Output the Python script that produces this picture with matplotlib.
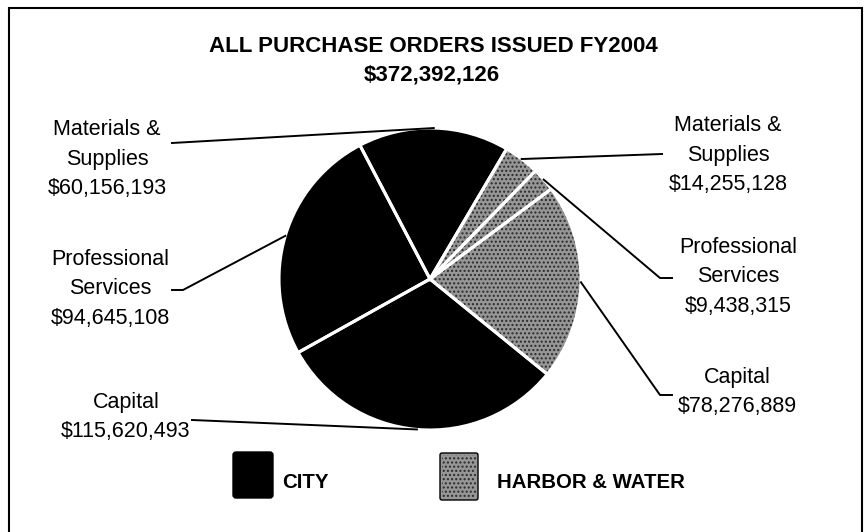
import matplotlib
matplotlib.use("Agg")
import matplotlib.pyplot as plt
from matplotlib.patches import Wedge, FancyBboxPatch, Rectangle
import numpy as np

title = "ALL PURCHASE ORDERS ISSUED FY2004"
groups = ["CITY", "HARBOR & WATER"]
categories = ["Materials &\nSupplies", "Professional\nServices", "Capital"]
city_values = [60156193, 94645108, 115620493]
harbor_values = [14255128, 9438315, 78276889]

# label placement (image pixels, y measured from top)
city_label_xy = [(107, 159), (110, 289), (126, 417)]
harbor_label_xy = [(728, 155), (738, 277), (737, 392)]
city_leader = [[(172, 143)], [(172, 290), (183, 290)], [(192, 420)]]
harbor_leader = [[(662, 154)], [(672, 278), (660, 278)], [(672, 395), (660, 395)]]

W, H = 864, 532
CITY_COLOR = "#000000"
HARBOR_COLOR = "#969696"


def up(p):
    return (p[0], H - p[1])


def main():
    plt.rcParams["font.family"] = ["Liberation Sans", "DejaVu Sans"]
    plt.rcParams["hatch.linewidth"] = 1.0
    fig = plt.figure(figsize=(W / 100, H / 100), dpi=100)
    ax = fig.add_axes([0, 0, 1, 1])

    # clockwise from the top-right: harbor slices, then city slices reversed
    values = harbor_values + city_values[::-1]
    colors = [HARBOR_COLOR] * 3 + [CITY_COLOR] * 3
    center = (430, H - 279)
    radius = 151
    wedges, _ = ax.pie(values, colors=colors, startangle=59.5, counterclock=False,
                       center=center, radius=radius,
                       wedgeprops=dict(linewidth=0))

    # stipple texture on harbor slices, then white separators on top
    for w in wedges[:3]:
        ax.add_patch(Wedge(w.center, w.r, w.theta1, w.theta2, facecolor="none",
                           edgecolor="#2a2a2a", linewidth=0, hatch="....", zorder=2))
    for w in wedges:
        ax.add_patch(Wedge(w.center, w.r, w.theta1, w.theta2, facecolor="none",
                           edgecolor="white", linewidth=2.2, zorder=3))

    harbor_w = wedges[:3]
    city_w = wedges[3:][::-1]

    def rim(w):
        a = np.deg2rad((w.theta1 + w.theta2) / 2)
        return (w.center[0] + w.r * np.cos(a), w.center[1] + w.r * np.sin(a))

    for cat_list, vals, wl, lxy, lead in [
        (categories, city_values, city_w, city_label_xy, city_leader),
        (categories, harbor_values, harbor_w, harbor_label_xy, harbor_leader),
    ]:
        for cat, v, w, xy, pts in zip(cat_list, vals, wl, lxy, lead):
            ax.text(xy[0], H - xy[1], "%s\n$%s" % (cat, format(v, ",")),
                    ha="center", va="center", fontsize=15.5, linespacing=1.52)
            path = [up(p) for p in pts] + [rim(w)]
            xs, ys = zip(*path)
            ax.plot(xs, ys, color="black", linewidth=1.4, zorder=4)

    total = sum(city_values) + sum(harbor_values)
    ax.text(433, H - 47, title, ha="center", va="center", fontsize=16,
            fontweight="bold")
    ax.text(432, H - 75, "$" + format(total, ","), ha="center", va="center",
            fontsize=16, fontweight="bold")

    # legend
    ax.add_patch(FancyBboxPatch((235, H - 496), 36, 42, boxstyle="round,pad=2,rounding_size=3",
                                facecolor=CITY_COLOR, edgecolor="black", linewidth=1))
    ax.add_patch(FancyBboxPatch((442, H - 498), 34, 43, boxstyle="round,pad=2,rounding_size=2",
                                facecolor=HARBOR_COLOR, edgecolor="black", linewidth=1))
    ax.add_patch(Rectangle((442, H - 498), 34, 43, facecolor="none", edgecolor="#2a2a2a",
                           linewidth=0, hatch="...."))
    ax.text(282, H - 482, groups[0], ha="left", va="center", fontsize=14.7,
            fontweight="bold")
    ax.text(497, H - 482, groups[1], ha="left", va="center", fontsize=14.7,
            fontweight="bold")

    # outer frame
    ax.add_patch(Rectangle((9, -10), 853, H - 8 + 10, facecolor="none",
                           edgecolor="black", linewidth=1.5, zorder=5))

    ax.set_xlim(0, W)
    ax.set_ylim(0, H)
    ax.set_aspect("auto")
    ax.axis("off")
    fig.savefig("out.png", dpi=100)


if __name__ == "__main__":
    main()
